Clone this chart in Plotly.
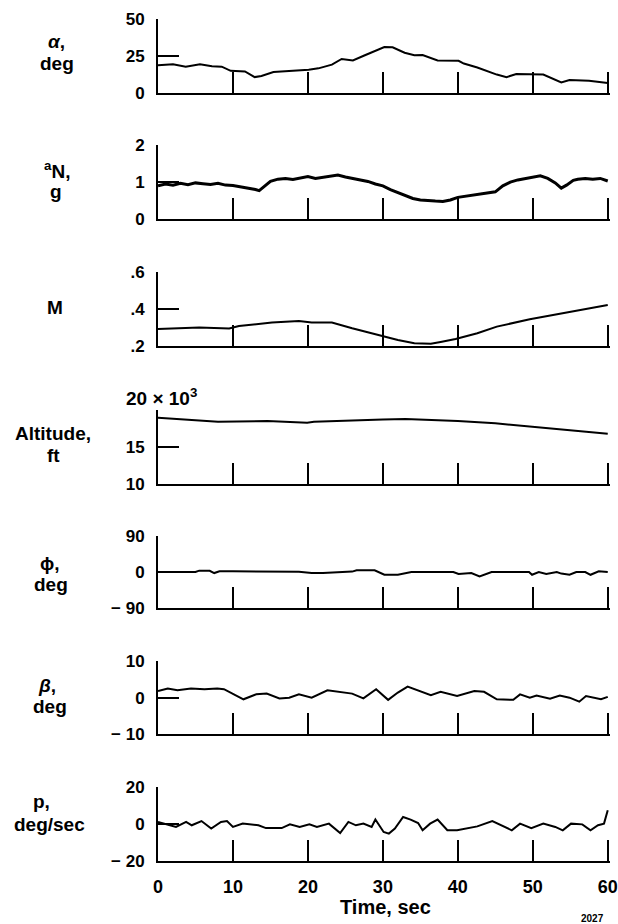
import plotly.graph_objects as go

W, H = 618, 924
ML, MR = 158, 8
PW = W - ML - MR

# ---------------- data ----------------
t_alpha = [0, 2, 3.7, 5.6, 7.2, 8.5, 9.7, 11.6, 12.9, 13.8, 15.4, 16.9, 18.8, 20.1, 21.4, 23.2, 24.5, 26, 27.6, 30.2,
           31.3, 32.9, 34.2, 35.3, 37.3, 40.1, 40.8, 42.6, 45.2, 46.5, 47.8, 49.6, 51.4, 53.8, 54.9, 57.5, 60]
alpha = [18.9, 19.6, 17.9, 19.6, 18.2, 17.9, 15.1, 14.7, 10.9, 11.6, 14.3, 14.7, 15.5, 15.8, 16.8, 19.3, 23.1, 22.1, 25.6, 31.1,
         31, 27.3, 25.6, 25.8, 22.1, 21.9, 20, 17.4, 12.6, 10.9, 13, 12.6, 12.6, 7.3, 9, 8.4, 6.9]

t_an = [0, 1, 2, 3, 4, 5, 6, 7, 8, 9, 10, 11, 12, 13, 13.5, 14, 15, 16, 17, 18,
        19, 20, 21, 22, 23, 24, 25, 26, 27, 28, 29, 30, 31, 32, 33, 34, 35, 36, 37, 38,
        39, 40, 41, 42, 43, 44, 45, 46, 47, 48, 49, 50, 51, 52, 53, 53.8, 54.5, 55.4, 56, 57,
        58, 59, 60]
a_n = [0.90, 0.95, 0.92, 0.97, 0.93, 0.98, 0.96, 0.94, 0.97, 0.92, 0.91, 0.88, 0.85, 0.80, 0.77, 0.85, 1.02, 1.08, 1.10, 1.07,
       1.12, 1.15, 1.10, 1.13, 1.17, 1.19, 1.14, 1.10, 1.06, 1.02, 0.95, 0.90, 0.80, 0.72, 0.62, 0.56, 0.52, 0.50, 0.49, 0.48,
       0.52, 0.59, 0.62, 0.66, 0.68, 0.72, 0.74, 0.90, 1.00, 1.06, 1.10, 1.15, 1.17, 1.10, 0.98, 0.84, 0.92, 1.05, 1.08, 1.10,
       1.08, 1.10, 1.03]

t_mach = [0, 5.5, 9.5, 10.8, 15.2, 18.8, 20.5, 23.2, 25.9, 29.9, 32, 34.2, 36.4, 37.7, 39.7, 42.6, 45.2, 49.6, 54, 60]
mach = [0.290, 0.299, 0.293, 0.306, 0.326, 0.333, 0.325, 0.325, 0.294, 0.252,
        0.231, 0.213, 0.210, 0.220, 0.236, 0.267, 0.303, 0.343, 0.375, 0.42]

t_alt = [0, 3.6, 8, 14.6, 19.9, 20.8, 25, 30, 33, 36, 40, 45, 50, 55, 60]
altitude_k = [18.96, 18.74, 18.42, 18.5, 18.28, 18.4, 18.5, 18.7, 18.8, 18.7, 18.5, 18.2, 17.7, 17.2, 16.8]

t_phi = [0, 5, 5.5, 6.9, 7.5, 8.2, 10, 15, 18, 18.8, 20.5, 22, 25.9, 26.5, 28.9, 30.2, 32, 33.8, 39.4, 40.1,
         41.8, 42.9, 44.5, 49.5, 49.9, 50.8, 51.8, 53.2, 53.8, 54.9, 55.8, 57, 57.7, 58.8, 60]
phi = [0, 0, 3.4, 3, -2.6, 1.7, 1.7, 1.7, 1, 0.5, -2.6, -2.6, 1, 4.3, 4.3, -6.9, -6.9, 0, 0, -5,
       -2.6, -11, 0, 0, -6.9, 0, -5, 0, -4, -6.9, 0, 0, -6.9, 1.7, 0]

t_beta = [0, 1.3, 2.6, 4.4, 6.2, 7.9, 8.8, 10.1, 11.4, 13.1, 14.5, 16.2, 17.5, 18.8, 20.5, 22.6, 24.5, 25.9, 27.4, 29.1,
          30.7, 32, 33.3, 34.6, 36.4, 37.7, 39.9, 42.2, 43.5, 45.2, 47.4, 48.3, 49.6, 50.5, 52.3, 53.6, 54.9, 56.2, 57.1, 59.1, 60]
beta = [1.8, 2.5, 2.0, 2.5, 2.3, 2.5, 2.3, 0.9, -0.45, 0.9, 1.1, -0.2, 0, 0.9, 0, 2.0, 1.4, 1.1, -0.2, 2.3,
        -0.6, 1.4, 3.0, 2.0, 0.7, 1.6, 0.45, 1.8, 1.6, -0.45, -0.6, 0.9, 0, 0.6, -0.3, 0.6, 0, -1.1, 0.45, -0.45, 0.2]

t_p = [0, 0.9, 2.4, 3.75, 4.5, 5.8, 7.1, 8.4, 9.2, 10, 11.3, 13.4, 14.4, 16.5, 17.6, 18.9, 20.2, 21.2, 22.8, 24.3,
       25.4, 26.4, 27.4, 28.5, 29, 30.1, 30.8, 31.6, 32.7, 33.7, 34.7, 35.3, 36.3, 37.3, 38.6, 39.9, 41, 42.6, 44.6, 45.7,
       47.2, 48.3, 49.8, 51.4, 53, 54, 55.1, 56.6, 57.7, 58.7, 59.5, 60]
p_rate = [1.1, 0.2, -1.6, 1.1, -0.7, 1.6, -2.5, 1.1, 1.6, -1.6, 0.2, -0.7, -2.2, -2.2, -0.2, -1.6, -0.2, -1.6, 0.2, -4.9,
          1.1, -0.7, 0.2, -1.6, 2.4, -4.3, -5.2, -2.5, 3.8, 2.4, 0.5, -3.4, 0.2, 2.4, -3.4, -3.4, -2.5, -1.3, 1.6, -0.7,
          -3.4, 0.2, -2.2, 0.2, -1.6, -3.4, 0.2, -0.2, -3.4, -0.7, 0.2, 7.4]

time_ticks = [0, 10, 20, 30, 40, 50, 60]
time_tick_labels = ["0", "10", "20", "30", "40", "50", "60"]

# ---------------- panel config (pixel positions) ----------------
FONT = "Liberation Sans, Arial, Helvetica, sans-serif"
LFS = 19  # left label font size
panels = [
    dict(t=t_alpha, v=alpha, rng=[0, 50], tv=[0, 25, 50], tt=["0", "25", "50"],
         top=19, bot=93.3, lines=[("<i>α</i>,", 56, 46.7), ("deg", 57, 68)], lw=2),
    dict(t=t_an, v=a_n, rng=[0, 2], tv=[0, 1, 2], tt=["0", "1", "2"],
         top=145, bot=219.3, lines=[("<sup>a</sup>N,", 57, 175), ("g", 56, 196.7)], lw=3),
    dict(t=t_mach, v=mach, rng=[0.2, 0.6], tv=[0.2, 0.4, 0.6], tt=[".2", ".4", ".6"],
         top=271.7, bot=345.7, lines=[("M", 55, 312.7)], lw=2),
    dict(t=t_alt, v=altitude_k, rng=[10, 20], tv=[10, 15, 20], tt=["10", "15", ""],
         top=410, bot=484, lines=[("Altitude,", 53, 438.3), ("ft", 53, 460)], lw=2),
    dict(t=t_phi, v=phi, rng=[-90, 90], tv=[-90, 0, 90], tt=["\u2212 90", "0", "90"],
         top=535.7, bot=608.3, lines=[("\u03d5,", 50, 568), ("deg", 51, 589)], lw=2),
    dict(t=t_beta, v=beta, rng=[-10, 10], tv=[-10, 0, 10], tt=["\u2212 10", "0", "10"],
         top=661, bot=734.3, lines=[("<i>β</i>,", 47, 690), ("deg", 50, 711)], lw=2),
    dict(t=t_p, v=p_rate, rng=[-20, 20], tv=[-20, 0, 20], tt=["\u2212 20", "0", "20"],
         top=787, bot=861, lines=[("p,", 41, 806), ("deg/sec", 49, 829)], lw=2),
]


def px_x(x):
    return (x - ML) / PW


def px_y(y):
    return 1 - y / H


fig = go.Figure()
layout = dict(
    width=W, height=H,
    margin=dict(l=ML, r=MR, t=0, b=0, autoexpand=False),
    paper_bgcolor="white", plot_bgcolor="white",
    showlegend=False,
    font=dict(family=FONT, color="black", size=17, weight="bold"),
)

annotations = []
n = len(panels)
for i, p in enumerate(panels):
    k = i + 1
    xa = "x" if k == 1 else f"x{k}"
    ya = "y" if k == 1 else f"y{k}"
    fig.add_trace(go.Scatter(x=p["t"], y=p["v"], mode="lines", xaxis=xa, yaxis=ya,
                             line=dict(color="black", width=p["lw"]), hoverinfo="skip"))
    last = (k == n)
    layout["xaxis" if k == 1 else f"xaxis{k}"] = dict(
        domain=[0, 1], anchor=ya, range=[0, 60.3], showgrid=False, zeroline=False,
        showline=True, linecolor="black", linewidth=2,
        ticks="inside", ticklen=21, tickwidth=2, tickcolor="black",
        tickvals=time_ticks, ticktext=time_tick_labels, showticklabels=last,
        ticklabelstandoff=8, ticklabeloverflow="allow",
        tickfont=dict(family=FONT, size=18, color="black", weight="bold"),
        automargin=False, fixedrange=True,
    )
    layout["yaxis" if k == 1 else f"yaxis{k}"] = dict(
        domain=[px_y(p["bot"]), px_y(p["top"])], anchor=xa, range=p["rng"],
        showgrid=False, zeroline=False, showline=True, linecolor="black", linewidth=2,
        ticks="inside", ticklen=21, tickwidth=2, tickcolor="black",
        tickvals=p["tv"], ticktext=p["tt"], ticklabelstandoff=8, ticklabeloverflow="allow",
        tickfont=dict(family=FONT, size=17, color="black", weight="bold"),
        automargin=False, fixedrange=True,
    )
    for text, lx, base in p["lines"]:
        annotations.append(dict(
            text=text, xref="paper", yref="paper",
            x=px_x(lx), y=px_y(base - 0.25 * LFS), xanchor="center", yanchor="middle",
            showarrow=False, align="center",
            font=dict(family=FONT, size=LFS, color="black", weight="bold"),
        ))

annotations.append(dict(
    text="20 \u00d7 10<sup>3</sup>", xref="paper", yref="paper",
    x=px_x(161), y=px_y(397), xanchor="center", yanchor="middle",
    showarrow=False, font=dict(family=FONT, size=19, color="black", weight="bold"),
))
annotations.append(dict(
    text="Time, sec", xref="paper", yref="paper",
    x=px_x(385), y=px_y(907), xanchor="center", yanchor="middle",
    showarrow=False, font=dict(family=FONT, size=20, color="black", weight="bold"),
))
annotations.append(dict(
    text="2027", xref="paper", yref="paper",
    x=px_x(592), y=px_y(918), xanchor="center", yanchor="middle",
    showarrow=False, font=dict(family=FONT, size=10, color="black"),
))
layout["annotations"] = annotations
fig.update_layout(**layout)
fig.write_html("out.html", config={"displayModeBar": False},
               post_script="document.body.style.margin='0';document.body.style.overflow='hidden';")
